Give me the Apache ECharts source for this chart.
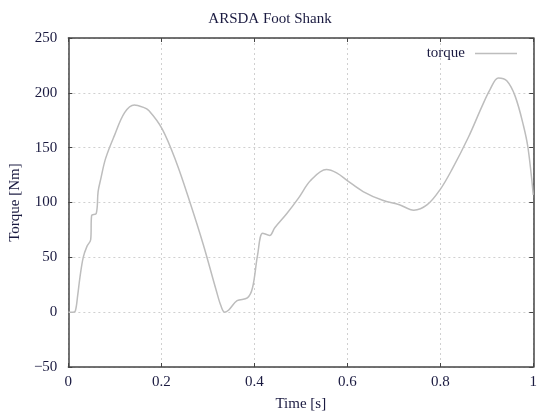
<!DOCTYPE html>
<html>
<head>
<meta charset="utf-8">
<script src="https://cdn.jsdelivr.net/npm/echarts@6/dist/echarts.min.js"></script>
<style>
  html, body { margin: 0; padding: 0; background: #fff; }
  #echart { width: 540px; height: 417px; }
</style>
</head>
<body>
<div id="echart"></div>
<script>
// time samples [s] and torque values [Nm]
var timeS = [0, 0.01, 0.015, 0.02, 0.025, 0.032, 0.04, 0.048, 0.05, 0.06, 0.064, 0.07, 0.08,
  0.099, 0.121, 0.142, 0.16, 0.173, 0.202, 0.232, 0.261, 0.29, 0.318, 0.328, 0.336, 0.345, 0.363,
  0.385, 0.396, 0.407, 0.418, 0.433, 0.444, 0.47, 0.495, 0.521, 0.555, 0.577, 0.6, 0.634,
  0.676, 0.712, 0.743, 0.772, 0.8, 0.825, 0.861, 0.889, 0.907, 0.925, 0.943, 0.961, 0.979,
  0.989, 1.0];
var torque = [0, 0, 1, 15, 32, 50, 60, 66, 88, 90, 110, 122, 140,
  161, 182, 189, 187, 184, 167, 137, 101, 62, 20, 6, 0, 2, 10.5,
  13, 22, 52, 72, 70, 77, 90, 104, 120, 130, 127, 120, 110,
  102, 98, 93, 98, 112, 130, 160, 187, 203, 213.5, 211, 197, 170,
  149, 107];
var xTicks = [0, 0.2, 0.4, 0.6, 0.8, 1];
var yTicks = [-50, 0, 50, 100, 150, 200, 250];

var serif = 'Liberation Serif';
var pts = timeS.map(function (t, i) { return [t, torque[i]]; });

var myChart = echarts.init(document.getElementById('echart'));

var frame = { show: true, onZero: false, lineStyle: { color: '#444', width: 1.5 } };
var tickStyle = { show: true, inside: true, length: 4, lineStyle: { color: '#444' } };
var gridStyle = { show: true, lineStyle: { color: '#d0d0d0', type: [2, 3], width: 1 } };
var labelFont = { fontFamily: serif, fontSize: 15, color: '#1a1a40' };

myChart.setOption({
  animation: false,
  title: {
    text: 'ARSDA Foot Shank',
    left: 'center',
    top: 7,
    textStyle: { fontFamily: serif, fontSize: 15, fontWeight: 'normal', color: '#1a1a40' }
  },
  legend: {
    right: 18,
    top: 41,
    align: 'right',
    icon: 'rect',
    itemWidth: 42,
    itemHeight: 1.5,
    itemGap: 8,
    textStyle: Object.assign({ padding: [0, 5, 0, 0] }, labelFont),
    data: ['torque']
  },
  grid: { left: 67, right: 3, top: 38, bottom: 46 },
  xAxis: [{
    type: 'value', min: 0, max: 1, interval: 0.2,
    name: 'Time [s]', nameLocation: 'middle', nameGap: 30,
    nameTextStyle: labelFont,
    axisLine: frame,
    axisTick: tickStyle,
    splitLine: gridStyle,
    axisLabel: Object.assign({ margin: 8,
      formatter: function (v) { return String(Math.round(v * 10) / 10); } }, labelFont)
  }, {
    type: 'value', min: 0, max: 1, interval: 0.2, position: 'top',
    axisLine: frame, axisTick: tickStyle,
    axisLabel: { show: false }, splitLine: { show: false }
  }],
  yAxis: [{
    type: 'value', min: -50, max: 250, interval: 50,
    name: 'Torque [Nm]', nameLocation: 'middle', nameGap: 44,
    nameTextStyle: labelFont,
    axisLine: frame,
    axisTick: tickStyle,
    splitLine: gridStyle,
    axisLabel: Object.assign({ margin: 11,
      formatter: function (v) { return String(v).replace('-', '\u2212'); } }, labelFont)
  }, {
    type: 'value', min: -50, max: 250, interval: 50, position: 'right',
    axisLine: frame, axisTick: tickStyle,
    axisLabel: { show: false }, splitLine: { show: false }
  }],
  series: [{
    name: 'torque',
    type: 'line',
    data: pts,
    showSymbol: false,
    smooth: 0.35,
    color: '#bdbdbd',
    lineStyle: { color: '#bdbdbd', width: 1.5 }
  }]
});
</script>
</body>
</html>
